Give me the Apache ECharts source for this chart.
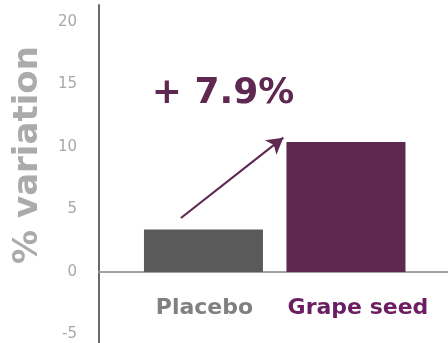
<!DOCTYPE html>
<html>
<head>
<meta charset="utf-8">
<script src="https://cdn.jsdelivr.net/npm/echarts@6/dist/echarts.min.js"></script>
<style>
  html, body { margin: 0; padding: 0; background: #fff; }
  #chart { width: 448px; height: 343px; }
</style>
</head>
<body>
<div id="chart"></div>
<script>
// Change from baseline (%) per group
const categories = ['Placebo', 'Grape seed'];
const values = [3.4, 10.4];
const barColors = ['#5a5a5a', '#5e2851'];
const labelColors = ['#808080', '#6b1f62'];
const yTicks = [-5, 0, 5, 10, 15, 20];
const deltaLabel = '+ 7.9%';

const FONT = '"DejaVu Sans", "Noto Sans", sans-serif';
// horizontal nudge of each group name relative to its bar centre
const labelNudge = [1, 12];

const chart = echarts.init(document.getElementById('chart'));

// Bars sit at x = 1, 2 on a value axis so the frame can extend past them;
// each group name is drawn under its bar, below the zero line
const barData = values.map((v, i) => ({
  value: [i + 1, v],
  itemStyle: { color: barColors[i] },
  label: {
    show: true,
    position: 'bottom',
    distance: 25,
    offset: [labelNudge[i], 0],
    formatter: categories[i],
    color: labelColors[i],
    fontSize: 22,
    fontWeight: 'bold',
    fontFamily: FONT
  }
}));

chart.setOption({
  animation: false,
  grid: { left: 99, right: 0, top: 5, bottom: 0, containLabel: false, outerBoundsMode: 'none' },
  xAxis: {
    type: 'value',
    min: 0.267,
    max: 2.716,
    axisLine: { onZero: true, lineStyle: { color: '#a0a0a0', width: 1.8, type: [2, 1] } },
    axisTick: { show: false },
    splitLine: { show: false },
    axisLabel: { show: false }
  },
  yAxis: {
    type: 'value',
    min: -5.68,
    max: 21.36,
    axisLine: { show: true, onZero: false, lineStyle: { color: '#6a6a6a', width: 2 } },
    axisTick: { show: false },
    splitLine: { show: false },
    axisLabel: {
      customValues: yTicks,
      color: '#a8a8a8',
      fontSize: 15,
      fontFamily: FONT,
      margin: 22
    }
  },
  series: [{
    type: 'bar',
    barWidth: 119,
    data: barData,
    markLine: {
      silent: true,
      symbol: ['none', 'arrow'],
      symbolSize: [14, 16],
      label: { show: false },
      lineStyle: { color: '#5e2851', width: 2.2, type: 'solid' },
      data: [[{ coord: [0.842, 4.32] }, { coord: [1.56, 10.75] }]]
    }
  }],
  graphic: [
    {
      type: 'text',
      x: 28,
      y: 155,
      rotation: Math.PI / 2,
      style: {
        text: '% variation',
        fill: '#ababab',
        font: 'bold 34px ' + FONT,
        align: 'center',
        verticalAlign: 'middle'
      }
    },
    {
      type: 'text',
      x: 223,
      y: 94,
      style: {
        text: deltaLabel,
        fill: '#5e2851',
        font: 'bold 36px ' + FONT,
        align: 'center',
        verticalAlign: 'middle'
      }
    }
  ]
});
</script>
</body>
</html>
